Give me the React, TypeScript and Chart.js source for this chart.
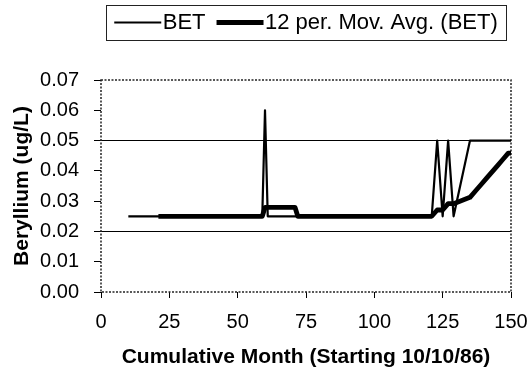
import React, { useEffect, useRef } from "react";
import { Chart, registerables } from "chart.js";

Chart.register(...registerables);

// ---- data ----
const months = [
  10, 11, 12, 13, 14, 15, 16, 17, 18, 19,
  20, 21, 22, 23, 24, 25, 26, 27, 28, 29,
  30, 31, 32, 33, 34, 35, 36, 37, 38, 39,
  40, 41, 42, 43, 44, 45, 46, 47, 48, 49,
  50, 51, 52, 53, 54, 55, 56, 57, 58, 59,
  60, 61, 62, 63, 64, 65, 66, 67, 68, 69,
  70, 71, 72, 73, 74, 75, 76, 77, 78, 79,
  80, 81, 82, 83, 84, 85, 86, 87, 88, 89,
  90, 91, 92, 93, 94, 95, 96, 97, 98, 99,
  100, 101, 102, 103, 104, 105, 106, 107, 108, 109,
  110, 111, 112, 113, 114, 115, 116, 117, 118, 119,
  120, 121, 123, 125, 127, 129, 135, 137, 139, 141,
  143, 145, 147, 149, 150,
];

const betValues = [
  0.025, 0.025, 0.025, 0.025, 0.025, 0.025, 0.025, 0.025, 0.025, 0.025,
  0.025, 0.025, 0.025, 0.025, 0.025, 0.025, 0.025, 0.025, 0.025, 0.025,
  0.025, 0.025, 0.025, 0.025, 0.025, 0.025, 0.025, 0.025, 0.025, 0.025,
  0.025, 0.025, 0.025, 0.025, 0.025, 0.025, 0.025, 0.025, 0.025, 0.025,
  0.025, 0.025, 0.025, 0.025, 0.025, 0.025, 0.025, 0.025, 0.025, 0.025,
  0.06, 0.025, 0.025, 0.025, 0.025, 0.025, 0.025, 0.025, 0.025, 0.025,
  0.025, 0.025, 0.025, 0.025, 0.025, 0.025, 0.025, 0.025, 0.025, 0.025,
  0.025, 0.025, 0.025, 0.025, 0.025, 0.025, 0.025, 0.025, 0.025, 0.025,
  0.025, 0.025, 0.025, 0.025, 0.025, 0.025, 0.025, 0.025, 0.025, 0.025,
  0.025, 0.025, 0.025, 0.025, 0.025, 0.025, 0.025, 0.025, 0.025, 0.025,
  0.025, 0.025, 0.025, 0.025, 0.025, 0.025, 0.025, 0.025, 0.025, 0.025,
  0.025, 0.025, 0.05, 0.025, 0.05, 0.025, 0.05, 0.05, 0.05, 0.05,
  0.05, 0.05, 0.05, 0.05, 0.05,
];

const seriesLabels = ["BET", "12 per. Mov. Avg. (BET)"];
const movingAvgPeriod = 12;

const xTickValues = [0, 25, 50, 75, 100, 125, 150];
const yTickValues = [0, 0.01, 0.02, 0.03, 0.04, 0.05, 0.06, 0.07];
const referenceLines = [0.02, 0.05];

const xTitle = "Cumulative Month (Starting 10/10/86)";
const yTitle = "Beryllium (ug/L)";

const FONT = "'Liberation Sans', Arial, Helvetica, sans-serif";

// ---- derived tables ----
const betPoints = months.map((m, i) => ({ x: m, y: betValues[i] }));
const movingAvgPoints = months
  .map((m, i) => {
    if (i < movingAvgPeriod - 1) return null;
    let s = 0;
    for (let k = i - movingAvgPeriod + 1; k <= i; k++) s += betValues[k];
    return { x: m, y: s / movingAvgPeriod };
  })
  .filter((p) => p !== null);

const framePlugin = {
  id: "frameAndLegend",
  beforeDatasetsDraw(chart: any) {
    const { ctx, chartArea: a } = chart;
    ctx.save();
    ctx.strokeStyle = "#222";
    ctx.lineWidth = 1.5;
    ctx.setLineDash([2, 1.5]);
    ctx.strokeRect(a.left, a.top, a.right - a.left, a.bottom - a.top);
    ctx.restore();
  },
  afterDraw(chart: any) {
    const { ctx, chartArea: a } = chart;
    const ds = chart.data.datasets;
    ctx.save();
    ctx.font = "22px " + FONT;
    const lineLen = 47;
    const gap = 1.5;
    const spacing = 11;
    const pad = 8;
    const widths = ds.map((d: any) => ctx.measureText(d.label).width);
    let total = 0;
    widths.forEach((w: number) => (total += lineLen + gap + w));
    total += spacing * (ds.length - 1);
    const cx = (a.left + a.right) / 2;
    const top = 5;
    const h = 35;
    const cy = top + h / 2;
    let x = cx - total / 2;
    ctx.strokeStyle = "#222";
    ctx.lineWidth = 1;
    ctx.strokeRect(Math.round(x - pad) + 0.5, top + 0.5, Math.round(total + 2 * pad), h);
    ctx.fillStyle = "#000";
    ctx.textBaseline = "middle";
    ctx.textAlign = "left";
    ds.forEach((d: any, i: number) => {
      ctx.beginPath();
      ctx.strokeStyle = "#000";
      ctx.lineWidth = d.borderWidth;
      ctx.moveTo(x, cy);
      ctx.lineTo(x + lineLen, cy);
      ctx.stroke();
      x += lineLen + gap;
      ctx.fillText(d.label, x, cy + 0.5);
      x += widths[i] + spacing;
    });
    ctx.restore();
  },
};

export default function App() {
  const ref = useRef<HTMLCanvasElement>(null);

  useEffect(() => {
    if (!ref.current) return;
    Chart.defaults.font.family = FONT;
    Chart.defaults.color = "#000";
    const isRef = (v: number) => referenceLines.some((r) => Math.abs(r - v) < 1e-9);
    const chart = new Chart(ref.current, {
      type: "line",
      data: {
        datasets: [
          {
            label: seriesLabels[0],
            data: betPoints,
            borderColor: "#000",
            borderWidth: 2.2,
            pointRadius: 0,
            tension: 0,
            borderJoinStyle: "round",
            order: 2,
          },
          {
            label: seriesLabels[1],
            data: movingAvgPoints as any,
            borderColor: "#000",
            borderWidth: 4.8,
            pointRadius: 0,
            tension: 0,
            borderJoinStyle: "round",
            order: 1,
          },
        ],
      },
      options: {
        animation: false,
        responsive: false,
        maintainAspectRatio: false,
        layout: { padding: { left: 0, right: 19, top: 80, bottom: 0 } },
        plugins: {
          legend: { display: false },
          tooltip: { enabled: false },
        },
        scales: {
          x: {
            type: "linear",
            min: xTickValues[0],
            max: xTickValues[xTickValues.length - 1],
            afterBuildTicks: (s: any) => {
              s.ticks = xTickValues.map((v) => ({ value: v }));
            },
            afterFit: (s: any) => {
              s.height = 87;
              s.paddingLeft = 0;
              s.paddingRight = 0;
            },
            ticks: {
              font: { size: 20 },
              padding: 12,
              maxRotation: 0,
              callback: (v: any) => String(v),
            },
            grid: {
              drawOnChartArea: false,
              color: "transparent",
              tickColor: "#000",
              tickLength: 6,
              tickWidth: 1,
            },
            border: { display: false },
            title: {
              display: true,
              text: xTitle,
              font: { size: 21, weight: "bold" },
              padding: { top: 0, bottom: 9 },
            },
          },
          y: {
            type: "linear",
            min: yTickValues[0],
            max: yTickValues[yTickValues.length - 1],
            afterBuildTicks: (s: any) => {
              s.ticks = yTickValues.map((v) => ({ value: v }));
            },
            afterFit: (s: any) => {
              s.width = 101;
              s.paddingTop = 0;
              s.paddingBottom = 0;
            },
            ticks: {
              font: { size: 20 },
              padding: 15,
              callback: (v: any) => Number(v).toFixed(2),
            },
            grid: {
              drawOnChartArea: true,
              color: (c: any) => (c.tick && isRef(c.tick.value) ? "#000" : "transparent"),
              lineWidth: 1,
              tickColor: "#000",
              tickLength: 7,
              tickWidth: 1,
            },
            border: { display: false },
            title: {
              display: true,
              text: yTitle,
              font: { size: 21, weight: "bold" },
              padding: { top: 10, bottom: 0 },
            },
          },
        },
      },
      plugins: [framePlugin],
    });
    return () => chart.destroy();
  }, []);

  return (
    <div style={{ position: "absolute", left: 0, top: 0, width: 530, height: 379, background: "#fff" }}>
      <canvas ref={ref} width={530} height={379} style={{ width: 530, height: 379, display: "block" }} />
    </div>
  );
}
